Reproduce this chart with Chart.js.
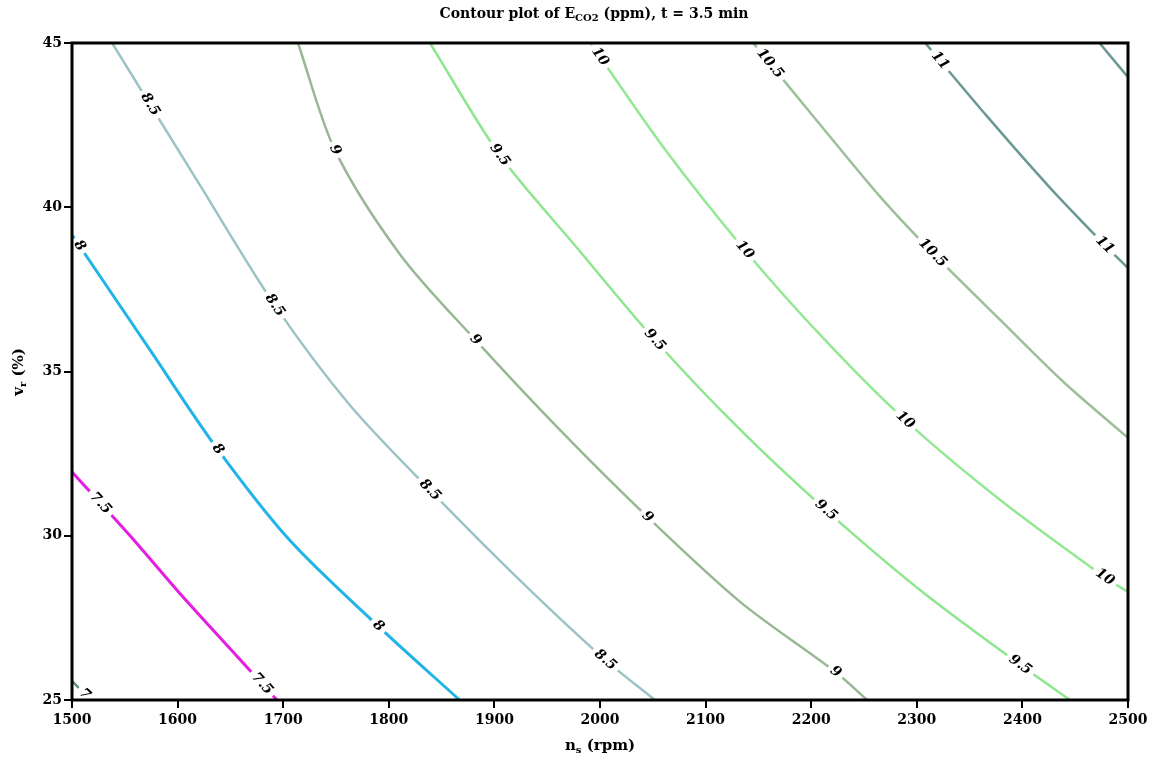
<!DOCTYPE html>
<html>
<head>
<meta charset="utf-8">
<script src="https://cdn.jsdelivr.net/npm/chart.js@4.4.1/dist/chart.umd.min.js"></script>
<style>
  body { margin: 0; background: #ffffff; }
</style>
</head>
<body>
<canvas id="contour" width="1155" height="768"></canvas>
<script>
// contour levels of E_CO2 (ppm)
const levels = ["7", "7.5", "8", "8.5", "9", "9.5", "10", "10.5", "11", "11.5"];

// each contour: n_s (rpm) and v_r (%)
const ns_70 = [1500, 1517];
const vr_70 = [25.58, 25];
const ns_75 = [1500, 1555, 1602, 1650, 1694];
const vr_75 = [31.94, 30.0, 28.25, 26.55, 25];
const ns_80 = [1500, 1574, 1635, 1706, 1792, 1867];
const vr_80 = [39.16, 35.65, 32.76, 29.87, 27.19, 25];
const ns_85 = [1538, 1621, 1692, 1763, 1839, 1924, 2005, 2052];
const vr_85 = [45, 40.68, 37.02, 33.98, 31.39, 28.65, 26.22, 25];
const ns_90 = [1714, 1749, 1811, 1882, 1962, 2045, 2133, 2223, 2253];
const vr_90 = [45, 41.74, 38.55, 35.96, 33.22, 30.57, 27.98, 25.85, 25];
const ns_95 = [1839, 1905, 1976, 2052, 2133, 2214, 2303, 2398, 2445];
const vr_95 = [45, 41.59, 38.85, 35.96, 33.22, 30.78, 28.35, 26.07, 25];
const ns_100 = [1991, 2062, 2137, 2213, 2289, 2379, 2478, 2500];
const vr_100 = [45, 41.74, 38.70, 35.96, 33.52, 31.09, 28.74, 28.29];
const ns_105 = [2145, 2205, 2265, 2315, 2379, 2440, 2500];
const vr_105 = [45, 42.65, 40.33, 38.61, 36.57, 34.65, 32.98];
const ns_110 = [2308, 2367, 2426, 2478, 2500];
const vr_110 = [45, 42.75, 40.6, 38.85, 38.15];
const ns_115 = [2473, 2500];
const vr_115 = [45, 43.96];

// where the inline level labels sit (n_s, rpm)
const labelsAt = [
    [1512],
    [1527, 1680],
    [1507, 1638, 1790],
    [1574, 1692, 1839, 2005],
    [1749, 1882, 2045, 2223],
    [1905, 2052, 2214, 2398],
    [2000, 2137, 2289, 2478],
    [2161, 2315],
    [2322, 2478],
    []
];

const xTicks = [1500, 1600, 1700, 1800, 1900, 2000, 2100, 2200, 2300, 2400, 2500];
const yTicks = [25, 30, 35, 40, 45];

const nsAll = [ns_70, ns_75, ns_80, ns_85, ns_90, ns_95, ns_100, ns_105, ns_110, ns_115];
const vrAll = [vr_70, vr_75, vr_80, vr_85, vr_90, vr_95, vr_100, vr_105, vr_110, vr_115];
const lineColors = ["#5f9088", "#e51de0", "#22b4e6", "#9cc3c6", "#98b894",
                    "#8ee68e", "#94e894", "#9dbf99", "#6b9894", "#6b9894"];
const lineWidths = [2.5, 3, 3, 2.5, 2.5, 2.5, 2.5, 2.5, 2.5, 2.5];

const serif = '"DejaVu Serif", "Liberation Serif", serif';

const datasets = [];
for (let i = 0; i < levels.length; i++) {
    const pts = [];
    for (let j = 0; j < nsAll[i].length; j++) {
        pts.push({ x: nsAll[i][j], y: vrAll[i][j] });
    }
    datasets.push({
        label: levels[i],
        data: pts,
        showLine: true,
        borderColor: lineColors[i],
        borderWidth: lineWidths[i],
        pointRadius: 0,
        tension: 0.3
    });
}

function valueAt(xs, ys, x) {
    for (let k = 0; k < xs.length - 1; k++) {
        if (x >= xs[k] && x <= xs[k + 1]) {
            const t = (x - xs[k]) / (xs[k + 1] - xs[k]);
            return ys[k] + t * (ys[k + 1] - ys[k]);
        }
    }
    return x < xs[0] ? ys[0] : ys[ys.length - 1];
}

// text with subscripts: parts = [[text, isSub], ...]
function drawParts(ctx, parts, cx, cy, size) {
    const big = "bold " + size + "px " + serif;
    const small = "bold " + Math.round(size * 0.68) + "px " + serif;
    let total = 0;
    for (let i = 0; i < parts.length; i++) {
        ctx.font = parts[i][1] ? small : big;
        total += ctx.measureText(parts[i][0]).width;
    }
    let x = cx - total / 2;
    ctx.textAlign = "left";
    ctx.textBaseline = "middle";
    for (let i = 0; i < parts.length; i++) {
        ctx.font = parts[i][1] ? small : big;
        ctx.fillText(parts[i][0], x, parts[i][1] ? cy + size * 0.3 : cy);
        x += ctx.measureText(parts[i][0]).width;
    }
}

const contourLabels = {
    id: "contourLabels",
    afterDatasetsDraw(chart) {
        const ctx = chart.ctx;
        const sx = chart.scales.x, sy = chart.scales.y;
        const area = chart.chartArea;
        ctx.save();
        ctx.beginPath();
        ctx.rect(area.left, area.top, area.right - area.left, area.bottom - area.top);
        ctx.clip();
        ctx.font = "italic bold 14px " + serif;
        ctx.textAlign = "center";
        ctx.textBaseline = "middle";
        for (let i = 0; i < levels.length; i++) {
            for (let k = 0; k < labelsAt[i].length; k++) {
                const lx = labelsAt[i][k];
                const px = sx.getPixelForValue(lx);
                const py = sy.getPixelForValue(valueAt(nsAll[i], vrAll[i], lx));
                const ax = sx.getPixelForValue(lx - 6), ay = sy.getPixelForValue(valueAt(nsAll[i], vrAll[i], lx - 6));
                const bx = sx.getPixelForValue(lx + 6), by = sy.getPixelForValue(valueAt(nsAll[i], vrAll[i], lx + 6));
                const ang = Math.atan2(by - ay, bx - ax);
                const w = ctx.measureText(levels[i]).width;
                ctx.save();
                ctx.translate(px, py);
                ctx.rotate(ang);
                ctx.fillStyle = "#ffffff";
                ctx.fillRect(-w / 2 - 4, -7, w + 8, 14);
                ctx.fillStyle = "#000000";
                ctx.fillText(levels[i], 0, 0);
                ctx.restore();
            }
        }
        ctx.restore();
    },
    afterDraw(chart) {
        const ctx = chart.ctx;
        const a = chart.chartArea;
        ctx.save();
        ctx.strokeStyle = "#000000";
        ctx.lineWidth = 3;
        ctx.strokeRect(a.left, a.top, a.right - a.left, a.bottom - a.top);
        ctx.fillStyle = "#000000";
        drawParts(ctx, [["Contour plot of E", false], ["CO2", true], [" (ppm), t = 3.5 min", false]], 594, 14, 14);
        drawParts(ctx, [["n", false], ["s", true], [" (rpm)", false]], 600, 746, 15);
        ctx.translate(19, 372);
        ctx.rotate(-Math.PI / 2);
        drawParts(ctx, [["v", false], ["r", true], [" (%)", false]], 0, 0, 15);
        ctx.restore();
    }
};

new Chart(document.getElementById("contour"), {
    type: "scatter",
    data: { datasets: datasets },
    options: {
        responsive: false,
        animation: false,
        layout: { padding: { top: 43, right: 27, bottom: 0, left: 0 } },
        plugins: {
            legend: { display: false },
            tooltip: { enabled: false }
        },
        scales: {
            x: {
                type: "linear",
                min: 1500,
                max: 2500,
                afterBuildTicks(scale) { scale.ticks = xTicks.map(v => ({ value: v })); },
                afterFit(scale) { scale.height = 68; },
                border: { display: false },
                grid: { drawOnChartArea: false, drawTicks: true, tickLength: 8, color: "#000000", lineWidth: 2 },
                ticks: {
                    color: "#000000",
                    padding: 4,
                    maxRotation: 0,
                    font: { family: serif, size: 14, weight: "bold" },
                    callback: (v) => String(v)
                }
            },
            y: {
                type: "linear",
                min: 25,
                max: 45,
                afterBuildTicks(scale) { scale.ticks = yTicks.map(v => ({ value: v })); },
                afterFit(scale) { scale.width = 72; },
                border: { display: false },
                grid: { drawOnChartArea: false, drawTicks: true, tickLength: 8, color: "#000000", lineWidth: 2 },
                ticks: {
                    color: "#000000",
                    padding: 2,
                    font: { family: serif, size: 14, weight: "bold" },
                    callback: (v) => String(v)
                }
            }
        }
    },
    plugins: [contourLabels]
});
</script>
</body>
</html>
